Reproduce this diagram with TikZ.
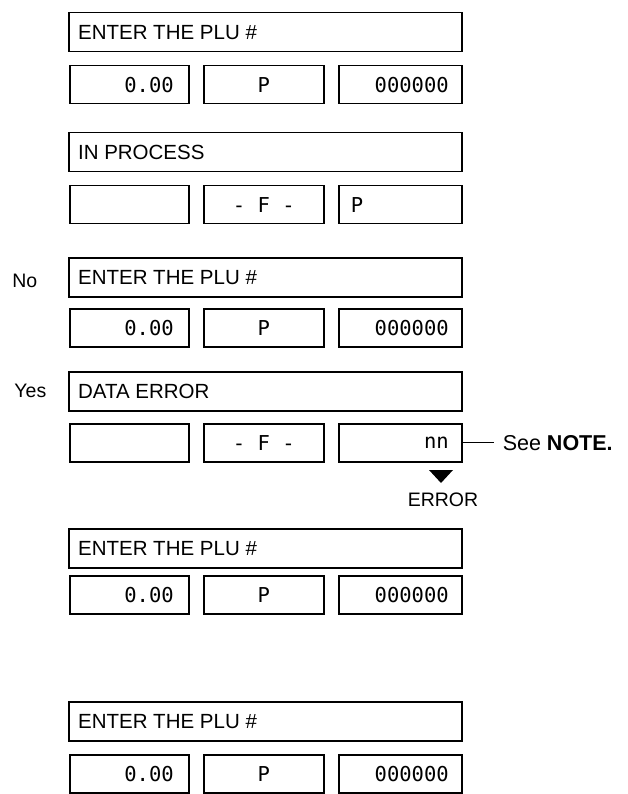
\documentclass[tikz,border=0pt]{standalone}
\usepackage{fontspec}
\setmainfont{Liberation Sans}
\newfontfamily\lcdfont{DejaVu Sans Mono}
\usetikzlibrary{positioning}

\begin{document}
\begin{tikzpicture}[x=1pt, y=-1pt, line width=1.5pt,
  msg/.style={draw, anchor=north west, minimum width=393pt, minimum height=39pt, inner sep=0pt},
  field/.style={draw, anchor=north west, minimum width=119pt, minimum height=38pt, inner sep=0pt},
  lbl/.style={font=\fontsize{20.5}{24}\selectfont},
  digit/.style={font=\lcdfont\fontsize{20.5}{24}\selectfont},
  side/.style={font=\fontsize{19.5}{23}\selectfont}]
\useasboundingbox (0,0) rectangle (628,794);
% display frames: message line + three fields per step
\foreach \r/\yt/\yb in {1/12/65, 2/132/185, 3/257/308, 4/371/423, 5/528/575, 6/701/754} {
  \node[msg] (msg\r) at (68,\yt) {};
  \node[field] (fa\r) at (69,\yb) {};
  \node[field, minimum width=120pt] (fb\r) at (203,\yb) {};
  \node[field, minimum width=123pt] (fc\r) at (338,\yb) {};
}
% idle prompt
\foreach \r in {1,3,5,6} {
  \node[lbl, anchor=west] (t\r) at ([xshift=6pt]msg\r.west) {ENTER THE PLU \#};
  \node[digit, anchor=east, inner sep=0pt] (a\r) at ([xshift=-15pt]fa\r.east) {0.00};
  \node[digit] (b\r) at (fb\r) {P};
  \node[digit, anchor=east, inner sep=0pt] (c\r) at ([xshift=-13pt]fc\r.east) {000000};
}
% processing
\node[lbl, anchor=west] (t2) at ([xshift=6pt]msg2.west) {IN PROCESS};
\node[digit] (b2) at (fb2) {- F -};
\node[digit, anchor=west, inner sep=0pt] (c2) at ([xshift=12pt]fc2.west) {P};
% error
\node[lbl, anchor=west] (t4) at ([xshift=6pt]msg4.west) {DATA ERROR};
\node[digit] (b4) at (fb4) {- F -};
\node[digit, anchor=east, inner sep=0pt] (c4) at ([xshift=-13pt]fc4.east) {nn};
% side labels
\node[side, anchor=east, inner sep=0pt] (no) at ([xshift=-30pt, yshift=-4pt]msg3.west) {No};
\node[side, anchor=east, inner sep=0pt] (yes) at ([xshift=-21pt]msg4.west) {Yes};
\node[side, font=\fontsize{21.5}{25}\selectfont, anchor=west, inner xsep=8pt] (note) at (494,443) {See \textbf{NOTE.}};
\draw[line width=1.2pt] (fc4.east) -- (fc4.east -| note.west);
\coordinate (tip) at (441,483);
\fill (tip) -- ++(-12,-13) -- ++(24,0) -- cycle;
\node[side] (err) at (443,500) {ERROR};
\end{tikzpicture}
\end{document}
